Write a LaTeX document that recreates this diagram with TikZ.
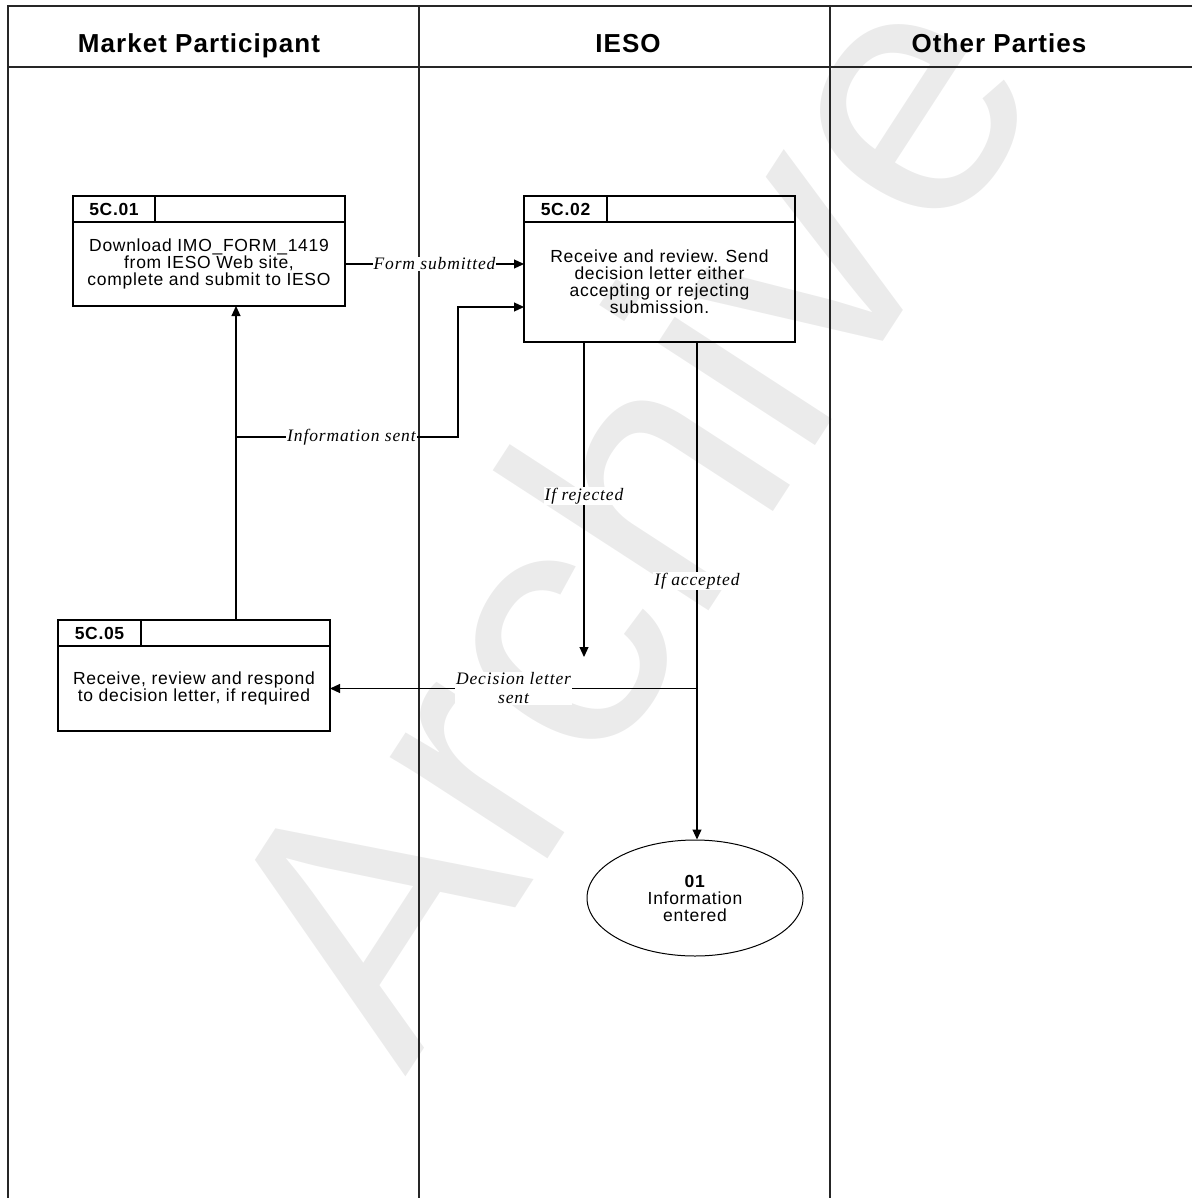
\documentclass[tikz,border=0pt]{standalone}
\usepackage{fontspec}
\setmainfont{Liberation Sans}[LetterSpace=4]
\newfontfamily\flowfont{Liberation Serif}[LetterSpace=5]
\newfontfamily\markfont{Liberation Sans}
\usetikzlibrary{arrows.meta,positioning,shapes.geometric}

\begin{document}
\begin{tikzpicture}[x=1pt, y=-1pt, line/.style={-{Triangle[length=10pt,width=9pt]}, line width=1.1pt}, lane/.style={line width=1.3pt, draw=black!85}, head/.style={anchor=base,font=\fontsize{26}{26}\selectfont\bfseries}, hdrrow/.style={rectangle,draw,line width=1.2pt,minimum height=26pt,inner sep=0pt,outer sep=0pt}, idcell/.style={hdrrow,font=\fontsize{17.5}{17}\selectfont\bfseries}, body/.style={rectangle,draw,line width=1.2pt,align=center,inner sep=0pt,outer sep=0pt,font=\fontsize{17.5}{17}\selectfont}, flow/.style={fill=white,inner sep=1pt,align=center,font=\flowfont\itshape\fontsize{17.5}{19}\selectfont}]
\useasboundingbox (0,0) rectangle (1192,1198);
% watermark
\node[rotate=57, anchor=base west, inner sep=0pt, text=black!8, font=\markfont\fontsize{355}{355}\selectfont] (mark) at (405,1078) {Archive};
% swimlanes
\draw[lane] (1192,6) -- (8,6) -- (8,1198);
\draw[lane] (8,67) -- (1192,67);
\draw[lane] (419,6) -- (419,1198);
\draw[lane] (830,6) -- (830,1198);
\node[head] (mp) at (199,53) {Market Participant};
\node[head] (ieso) at (628,53) {IESO};
\node[head] (op) at (999,53) {Other Parties};
% process boxes
\node[hdrrow, minimum width=272pt] (h01) at (209,209) {};
\node[idcell, minimum width=82pt, anchor=west] (id01) at (h01.west) {5C.01};
\node[body, minimum width=272pt, minimum height=84pt, below=0pt of h01] (p01) {Download IMO\_FORM\_1419\\from IESO Web site,\\complete and submit to IESO};
\node[hdrrow, minimum width=271pt] (h02) at (659.5,209) {};
\node[idcell, minimum width=83pt, anchor=west] (id02) at (h02.west) {5C.02};
\node[body, minimum width=271pt, minimum height=120pt, below=0pt of h02] (p02) {Receive and review. Send\\decision letter either\\accepting or rejecting\\submission.};
\node[hdrrow, minimum width=272pt] (h05) at (194,633) {};
\node[idcell, minimum width=83pt, anchor=west] (id05) at (h05.west) {5C.05};
\node[body, minimum width=272pt, minimum height=85pt, below=0pt of h05] (p05) {Receive, review and respond\\to decision letter, if required};
\node[ellipse, draw, line width=1pt, minimum width=216pt, minimum height=116pt, inner sep=0pt, align=center, font=\fontsize{17.5}{17}\selectfont] (e01) at (695,898) {\textbf{01}\\Information\\entered};
% connectors
\coordinate (infojoin) at (236,437);
\coordinate (infojog) at (458,307);
\coordinate (rejend) at (584,657);
\coordinate (accjoin) at (697,687);
\draw[line] (p01.east) -- (p01.east -| p02.west) node[flow, midway] {Form submitted};
\draw[line] (h05.north -| infojoin) -- (p01.south -| infojoin);
\draw[line] (infojoin) -- (infojoin -| infojog) node[flow, pos=0.52] {Information sent} -- (infojog) -- (infojog -| p02.west);
\draw[line] (p02.south -| rejend) -- (rejend) node[flow, pos=0.49] {If rejected};
\draw[line] (p02.south -| accjoin) -- (e01.north -| accjoin) node[flow, pos=0.48] {If accepted};
\draw[line] (accjoin |- p05.east) -- (p05.east) node[flow, midway] {Decision letter\\sent};
\end{tikzpicture}
\end{document}
